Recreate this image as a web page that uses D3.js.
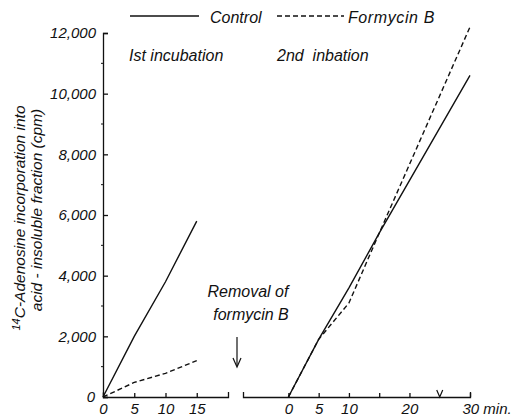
<!DOCTYPE html>
<html>
<head>
<meta charset="utf-8">
<script src="https://cdn.jsdelivr.net/npm/d3@7"></script>
<style>
  body { margin: 0; background: #fff; }
  text { font-family: "Liberation Sans", Arial, sans-serif; font-style: italic; fill: #111; }
  .axis path, .axis line { stroke: #111; stroke-width: 1.3; }
  .axis text { font-size: 15px; }
  .label { font-size: 16px; white-space: pre; }
</style>
</head>
<body>
<div id="chart"></div>
<script>
// 1st incubation (with / without formycin B)
const time1 = [0, 5, 10, 15];
const control1 = [0, 2000, 3800, 5800];
const formycin1 = [0, 480, 780, 1200];

// 2nd incubation, after removal of formycin B
const time2 = [0, 5, 10, 15, 30];
const control2 = [0, 1900, 3600, 5400, 10600];
const formycin2 = [0, 1900, 3100, 5400, 12200];

const yTicks = [0, 2000, 4000, 6000, 8000, 10000, 12000];
const xTicks1 = [0, 5, 10, 15];
const xTicks2 = [0, 5, 10, 15, 20, 30];

const width = 520, height = 417;

const svg = d3.select("#chart").append("svg")
    .attr("width", width)
    .attr("height", height);

const y = d3.scaleLinear().domain([0, 12000]).range([397, 33]);
const x1 = d3.scaleLinear().domain([0, 20]).range([103, 228]);
const x2 = d3.scaleLinear().domain([-7.5, 30]).range([243, 470]);

// y axis, ticks pointing inward
svg.append("g")
    .attr("class", "axis")
    .attr("transform", "translate(103,0)")
    .call(d3.axisLeft(y).tickValues(yTicks)
        .tickFormat(d => d === 0 ? "" : d3.format(",")(d))
        .tickSizeInner(-5).tickSizeOuter(-5).tickPadding(7));

// minor ticks every 1000
svg.append("g")
    .selectAll("line")
    .data(d3.range(1000, 12000, 2000))
    .join("line")
    .attr("x1", 103).attr("x2", 101)
    .attr("y1", d => y(d)).attr("y2", d => y(d))
    .attr("stroke", "#111");

svg.append("text")
    .attr("x", 91).attr("y", 402)
    .attr("text-anchor", "middle")
    .style("font-size", "15px")
    .text("0");

// first x axis
svg.append("g")
    .attr("class", "axis")
    .attr("transform", "translate(0,397)")
    .call(d3.axisBottom(x1).tickValues(xTicks1)
        .tickSizeInner(-4).tickSizeOuter(-5).tickPadding(6));

// second x axis
const ax2 = svg.append("g")
    .attr("class", "axis")
    .attr("transform", "translate(0,397)")
    .call(d3.axisBottom(x2).tickValues(xTicks2)
        .tickFormat(d => d === 15 ? "" : d === 30 ? "30 min." : d)
        .tickSizeInner(-4).tickSizeOuter(-5).tickPadding(6));
ax2.selectAll(".tick text")
    .filter(d => d === 30)
    .attr("text-anchor", "start")
    .attr("dx", -8);

// axis break mark at 25 min
svg.append("path")
    .attr("d", `M${x2(25) - 3},${y(0) - 7}L${x2(25)},${y(0)}L${x2(25) + 3},${y(0) - 7}`)
    .attr("fill", "none")
    .attr("stroke", "#111")
    .attr("stroke-width", 1.2);

// lines
const line1 = d3.line().x((d, i) => x1(time1[i])).y(d => y(d));
const line2 = d3.line().x((d, i) => x2(time2[i])).y(d => y(d));

const series = [
    {values: control1, gen: line1, dash: null},
    {values: formycin1, gen: line1, dash: "5,3"},
    {values: control2, gen: line2, dash: null},
    {values: formycin2, gen: line2, dash: "5,3"}
];

svg.append("g")
    .selectAll("path")
    .data(series)
    .join("path")
    .attr("d", d => d.gen(d.values))
    .attr("fill", "none")
    .attr("stroke", "#111")
    .attr("stroke-width", 1.4)
    .attr("stroke-dasharray", d => d.dash);

// legend
svg.append("line")
    .attr("x1", 130).attr("x2", 199).attr("y1", 16).attr("y2", 16)
    .attr("stroke", "#111").attr("stroke-width", 1.3);
svg.append("text")
    .attr("class", "label")
    .attr("x", 210).attr("y", 23)
    .text("Control");
svg.append("line")
    .attr("x1", 277).attr("x2", 344).attr("y1", 16).attr("y2", 16)
    .attr("stroke", "#111").attr("stroke-width", 1.3)
    .attr("stroke-dasharray", "5,3");
svg.append("text")
    .attr("class", "label")
    .attr("x", 348).attr("y", 23)
    .style("letter-spacing", "0.6px")
    .text("Formycin B");

// panel labels
svg.append("text")
    .attr("class", "label")
    .attr("x", 129).attr("y", 61)
    .text("Ist incubation");
svg.append("text")
    .attr("class", "label")
    .attr("x", 277).attr("y", 61)
    .text("2nd  inbation");

// removal annotation
svg.append("text")
    .attr("class", "label")
    .attr("x", 248).attr("y", 297)
    .attr("text-anchor", "middle")
    .text("Removal of");
svg.append("text")
    .attr("class", "label")
    .attr("x", 251).attr("y", 320)
    .attr("text-anchor", "middle")
    .text("formycin B");
svg.append("line")
    .attr("x1", 237).attr("x2", 237).attr("y1", 337).attr("y2", 366)
    .attr("stroke", "#111").attr("stroke-width", 1.2);
svg.append("path")
    .attr("d", "M233,358L237,367L241,358")
    .attr("fill", "none")
    .attr("stroke", "#111").attr("stroke-width", 1.2);

// y axis title
const t1 = svg.append("text")
    .attr("transform", "translate(25,218) rotate(-90)")
    .attr("text-anchor", "middle")
    .style("font-size", "15.5px");
t1.append("tspan").attr("dy", "-5").style("font-size", "11px").text("14");
t1.append("tspan").attr("dy", "5").text("C-Adenosine incorporation into");
svg.append("text")
    .attr("transform", "translate(42,210) rotate(-90)")
    .attr("text-anchor", "middle")
    .style("font-size", "15.5px")
    .text("acid - insoluble fraction (cpm)");
</script>
</body>
</html>
